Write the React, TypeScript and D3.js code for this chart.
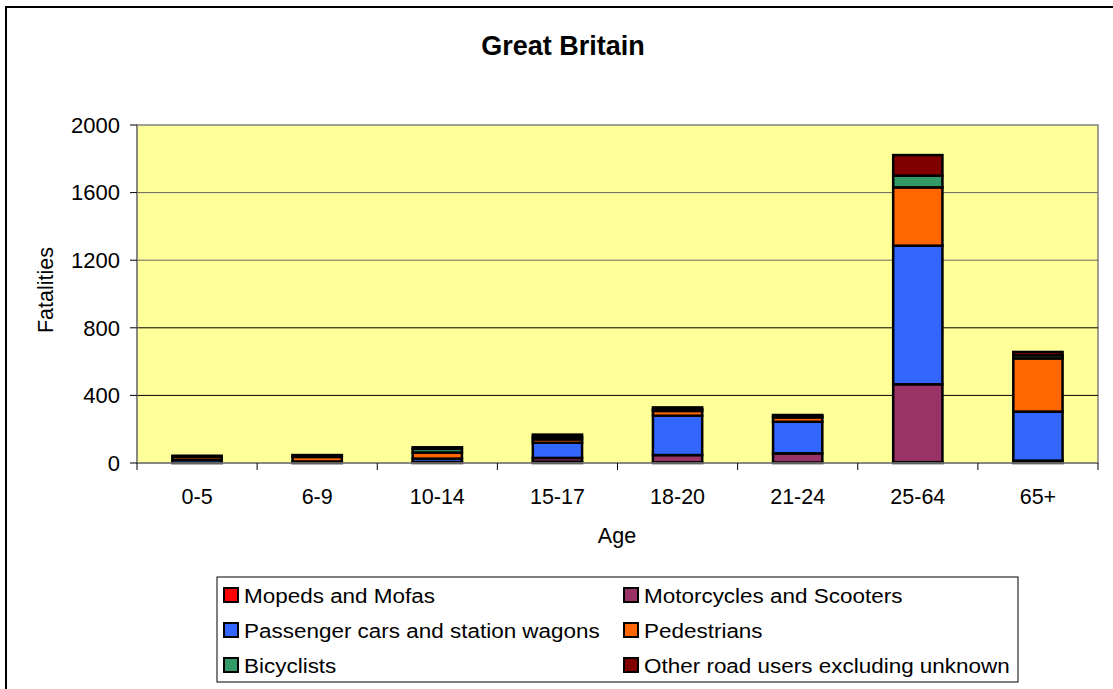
import React from "react";
import * as d3 from "d3";

const ages = ["0-5", "6-9", "10-14", "15-17", "18-20", "21-24", "25-64", "65+"];
const seriesNames = [
  "Mopeds and Mofas",
  "Motorcycles and Scooters",
  "Passenger cars and station wagons",
  "Pedestrians",
  "Bicyclists",
  "Other road users excluding unknown",
];
const mopeds = [0, 0, 2, 8, 4, 3, 5, 2];
const motorcycles = [1, 1, 4, 22, 43, 54, 461, 12];
const cars = [17, 8, 20, 90, 233, 187, 820, 290];
const pedestrians = [18, 27, 36, 20, 28, 26, 345, 315];
const bicyclists = [2, 6, 22, 14, 10, 7, 69, 18];
const others = [5, 5, 9, 14, 11, 7, 122, 20];
const yTicks = [0, 400, 800, 1200, 1600, 2000];
const colors = ["#FF0000", "#993366", "#3366FF", "#FF6600", "#339966", "#800000"];

const values = [mopeds, motorcycles, cars, pedestrians, bicyclists, others];

export default function App() {
  const W = 1113;
  const H = 689;
  const left = 137;
  const right = 1098;
  const top = 125;
  const bottom = 463;
  const font = "Arial, 'Liberation Sans', sans-serif";

  const rows = ages.map((a, i) => {
    const r: any = { age: a };
    seriesNames.forEach((s, j) => (r[s] = values[j][i]));
    return r;
  });
  const stacked = d3.stack<any>().keys(seriesNames)(rows);

  const x = d3
    .scaleBand<string>()
    .domain(ages)
    .range([left, right])
    .paddingInner(0.59)
    .paddingOuter(0.295);
  const step = (right - left) / ages.length;
  const y = d3.scaleLinear().domain([0, 2000]).range([bottom, top]);

  const legendRows = [595, 630, 665];
  const legendCols = [224, 624];

  return (
    <svg
      width={W}
      height={H}
      style={{ position: "absolute", left: 0, top: 0, background: "#fff" }}
      fontFamily={font}
    >
      <rect x={6} y={7} width={W + 20} height={H + 20} fill="#fff" stroke="#000" strokeWidth={2} />
      <text x={563} y={55} textAnchor="middle" fontSize={27} fontWeight="bold" fill="#000">
        Great Britain
      </text>
      <rect x={left} y={top} width={right - left} height={bottom - top} fill="#FFFF99" stroke="#808080" strokeWidth={1.5} />
      {yTicks.slice(1, -1).map((t) => (
        <line key={t} x1={left} x2={right} y1={y(t)} y2={y(t)} stroke={t >= 1200 ? "#666" : "#000"} strokeWidth={1} />
      ))}
      {stacked.map((layer, j) => (
        <g key={j}>
          {layer.map((d, i) => (
            <rect
              key={i}
              x={x(ages[i])}
              width={x.bandwidth()}
              y={y(d[1])}
              height={Math.max(0, y(d[0]) - y(d[1]))}
              fill={colors[j]}
              stroke="#000"
              strokeWidth={2.5}
            />
          ))}
        </g>
      ))}
      <line x1={left} x2={left} y1={top} y2={bottom} stroke="#808080" strokeWidth={1.5} />
      <line x1={left} x2={right} y1={bottom} y2={bottom} stroke="#808080" strokeWidth={1.5} />
      {yTicks.map((t) => (
        <g key={t}>
          <line x1={130} x2={left} y1={y(t)} y2={y(t)} stroke="#000" strokeWidth={1} />
          <text x={120} y={y(t)} dy="0.35em" textAnchor="end" fontSize={22} fill="#000">
            {t}
          </text>
        </g>
      ))}
      {d3.range(ages.length + 1).map((i) => (
        <line key={i} x1={left + i * step} x2={left + i * step} y1={bottom} y2={470} stroke="#000" strokeWidth={1} />
      ))}
      {ages.map((a) => (
        <text key={a} x={(x(a) as number) + x.bandwidth() / 2} y={504} textAnchor="middle" fontSize={21.5} fill="#000">
          {a}
        </text>
      ))}
      <text x={617} y={543} textAnchor="middle" fontSize={21.5} fill="#000">
        Age
      </text>
      <text transform="translate(53,290) rotate(-90)" textAnchor="middle" fontSize={21.5} fill="#000">
        Fatalities
      </text>
      <rect x={217} y={577} width={801} height={105} fill="#fff" stroke="#000" strokeWidth={1} />
      {seriesNames.map((s, j) => {
        const cx = legendCols[j % 2];
        const cy = legendRows[Math.floor(j / 2)];
        return (
          <g key={s}>
            <rect x={cx} y={cy - 7} width={14} height={14} fill={colors[j]} stroke="#000" strokeWidth={2} />
            <g transform={`translate(${cx + 20},${cy}) scale(1.07,1)`}>
              <text x={0} y={0} dy="0.36em" fontSize={21} fill="#000">
                {s}
              </text>
            </g>
          </g>
        );
      })}
    </svg>
  );
}
